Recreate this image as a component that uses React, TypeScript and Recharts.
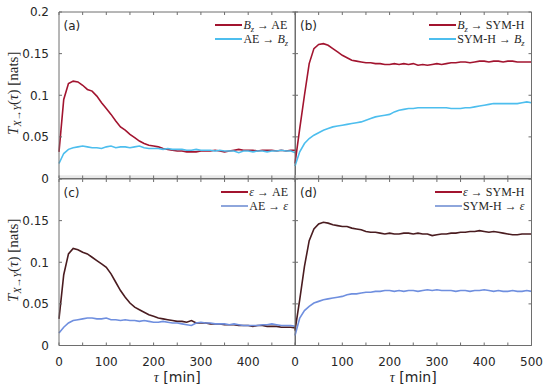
import React from "react";
import { LineChart, Line, XAxis, YAxis, Label, ReferenceArea } from "recharts";

// lag tau [min], one sample every 10 min
const TAU = [
  0, 10, 20, 30, 40, 50, 60, 70, 80, 90, 100, 110, 120, 130, 140, 150, 160, 170,
  180, 190, 200, 210, 220, 230, 240, 250, 260, 270, 280, 290, 300, 310, 320, 330,
  340, 350, 360, 370, 380, 390, 400, 410, 420, 430, 440, 450, 460, 470, 480, 490, 500,
];
const X_TICKS = [0, 50, 100, 150, 200, 250, 300, 350, 400, 450, 500];
const Y_TICKS = [0, 0.05, 0.1, 0.15, 0.2];
const NOISE_LEVEL = 0.004;

// (a)
const bzToAe = [
  0.032, 0.095, 0.114, 0.117, 0.116, 0.112, 0.107, 0.105, 0.099, 0.091, 0.084, 0.077, 0.069,
  0.062, 0.058, 0.053, 0.049, 0.045, 0.042, 0.04, 0.039, 0.038, 0.036, 0.035, 0.034, 0.033,
  0.033, 0.032, 0.032, 0.032, 0.033, 0.033, 0.033, 0.034, 0.033, 0.032, 0.033, 0.034, 0.035,
  0.034, 0.034, 0.034, 0.033, 0.034, 0.034, 0.034, 0.033, 0.034, 0.033, 0.034, 0.034,
];
const aeToBz = [
  0.018, 0.03, 0.035, 0.037, 0.038, 0.039, 0.038, 0.037, 0.037, 0.036, 0.038, 0.039, 0.037,
  0.038, 0.038, 0.037, 0.038, 0.039, 0.037, 0.036, 0.036, 0.036, 0.035, 0.036, 0.035, 0.035,
  0.035, 0.034, 0.034, 0.035, 0.034, 0.034, 0.034, 0.033, 0.034, 0.033, 0.033, 0.033, 0.031,
  0.033, 0.033, 0.032, 0.033, 0.033, 0.032, 0.033, 0.033, 0.034, 0.033, 0.033, 0.031,
];
// (b)
const bzToSymh = [
  0.018, 0.06, 0.1, 0.138, 0.156, 0.161, 0.162, 0.16, 0.156, 0.152, 0.148, 0.145, 0.142,
  0.141, 0.14, 0.139, 0.139, 0.138, 0.138, 0.137, 0.137, 0.138, 0.137, 0.138, 0.137, 0.138,
  0.136, 0.137, 0.136, 0.137, 0.138, 0.137, 0.138, 0.139, 0.139, 0.14, 0.14, 0.139, 0.14,
  0.141, 0.141, 0.14, 0.141, 0.141, 0.14, 0.141, 0.141, 0.14, 0.14, 0.14, 0.14,
];
const symhToBz = [
  0.015, 0.032, 0.042, 0.048, 0.052, 0.055, 0.058, 0.06, 0.062, 0.063, 0.064, 0.065, 0.066,
  0.067, 0.068, 0.07, 0.072, 0.074, 0.075, 0.076, 0.077, 0.08, 0.082, 0.083, 0.084, 0.084,
  0.085, 0.085, 0.085, 0.085, 0.085, 0.085, 0.085, 0.084, 0.084, 0.084, 0.085, 0.085, 0.086,
  0.087, 0.088, 0.089, 0.09, 0.09, 0.09, 0.09, 0.09, 0.09, 0.091, 0.092, 0.091,
];
// (c)
const epsToAe = [
  0.032, 0.085, 0.11, 0.1165, 0.115, 0.112, 0.11, 0.106, 0.102, 0.098, 0.094, 0.086, 0.076,
  0.066, 0.058, 0.051, 0.046, 0.043, 0.04, 0.037, 0.035, 0.033, 0.032, 0.031, 0.03, 0.029,
  0.029, 0.028, 0.03, 0.027, 0.027, 0.027, 0.026, 0.026, 0.026, 0.025, 0.025, 0.025, 0.024,
  0.024, 0.024, 0.023, 0.024, 0.024, 0.023, 0.023, 0.023, 0.022, 0.022, 0.022, 0.021,
];
const aeToEps = [
  0.015, 0.022, 0.027, 0.03, 0.031, 0.032, 0.033, 0.033, 0.032, 0.032, 0.033, 0.031, 0.031,
  0.03, 0.031, 0.03, 0.03, 0.029, 0.03, 0.029, 0.028, 0.028, 0.029, 0.028, 0.027, 0.027,
  0.026, 0.025, 0.024, 0.027, 0.028, 0.027, 0.027, 0.026, 0.026, 0.026, 0.025, 0.026, 0.025,
  0.024, 0.024, 0.024, 0.024, 0.025, 0.025, 0.026, 0.025, 0.024, 0.024, 0.024, 0.023,
];
// (d)
const epsToSymh = [
  0.018, 0.055, 0.095, 0.126, 0.14, 0.146, 0.148, 0.147, 0.145, 0.144, 0.143, 0.143, 0.141,
  0.14, 0.139, 0.137, 0.136, 0.136, 0.135, 0.134, 0.135, 0.134, 0.134, 0.135, 0.135, 0.134,
  0.135, 0.134, 0.134, 0.132, 0.133, 0.134, 0.134, 0.135, 0.135, 0.136, 0.136, 0.137, 0.137,
  0.138, 0.137, 0.136, 0.137, 0.136, 0.135, 0.134, 0.133, 0.133, 0.134, 0.134, 0.134,
];
const symhToEps = [
  0.012, 0.033, 0.042, 0.047, 0.051, 0.053, 0.055, 0.056, 0.057, 0.058, 0.059, 0.061, 0.062,
  0.062, 0.063, 0.064, 0.064, 0.065, 0.065, 0.066, 0.066, 0.065, 0.066, 0.065, 0.066, 0.066,
  0.065, 0.066, 0.067, 0.066, 0.067, 0.066, 0.066, 0.066, 0.065, 0.066, 0.066, 0.065, 0.066,
  0.066, 0.067, 0.066, 0.065, 0.066, 0.065, 0.065, 0.066, 0.065, 0.065, 0.066, 0.065,
];

const SANS = "'DejaVu Sans', sans-serif";
const SERIF = "'Liberation Serif', 'DejaVu Serif', serif";
const AXIS_COLOR = "#6e6e6e";
const TEXT_COLOR = "#262626";

const PLOT_W = 236.5;
const PLOT_H = 166.5;
const Y_AXIS_W = 50;
const X_AXIS_H = 38;
const M = 12; // room so edge tick labels are not clipped

const sub = (s: string) => (
  <sub style={{ fontSize: "0.7em", verticalAlign: "-0.3em", lineHeight: 0, fontStyle: "italic" }}>{s}</sub>
);
const Bz = (
  <>
    <i>B</i>
    {sub("z")}
  </>
);
const Eps = <i>ε</i>;
const blank = () => "";

interface PanelProps {
  tag: string;
  left: number;
  top: number;
  forward: number[];
  backward: number[];
  lineColors: [string, string];
  legendColors: [string, string];
  legendLabels: [React.ReactNode, React.ReactNode];
  yLabels: boolean;
  xLabels: boolean;
  hideX500?: boolean;
  hideY02?: boolean;
  band?: boolean;
}

const Panel = (p: PanelProps) => {
  const yw = p.yLabels ? Y_AXIS_W : 0;
  const xh = p.xLabels ? X_AXIS_H : 0;
  const width = M + yw + PLOT_W + M;
  const height = M + PLOT_H + xh + M;
  const rows = TAU.map((t, i) => ({ t, f: p.forward[i], b: p.backward[i] }));
  const tick = { fill: TEXT_COLOR, fontSize: 12, fontFamily: SANS };
  const frame = { stroke: AXIS_COLOR, strokeWidth: 1 };

  // mirrored axes draw the box and its inward ticks; plain axes carry the labels
  const boxX = (id: string, orientation: "top" | "bottom") => (
    <XAxis
      xAxisId={id}
      dataKey="t"
      type="number"
      orientation={orientation}
      mirror
      height={1}
      domain={[0, 500]}
      ticks={X_TICKS}
      interval={0}
      axisLine={frame}
      tickLine={frame}
      tickSize={3}
      tickFormatter={blank}
    />
  );
  const boxY = (id: string, orientation: "left" | "right") => (
    <YAxis
      yAxisId={id}
      dataKey="f"
      type="number"
      orientation={orientation}
      mirror
      width={1}
      domain={[0, 0.2]}
      ticks={Y_TICKS}
      interval={0}
      axisLine={frame}
      tickLine={frame}
      tickSize={3}
      tickFormatter={blank}
    />
  );

  return (
    <div style={{ position: "absolute", left: p.left - M - yw, top: p.top - M, width, height }}>
      <LineChart width={width} height={height} data={rows} margin={{ top: M, right: M, bottom: M, left: M }}>
        {boxX("b", "bottom")}
        {boxX("t", "top")}
        {boxY("l", "left")}
        {boxY("r", "right")}
        {p.xLabels && (
          <XAxis
            xAxisId="lab"
            dataKey="t"
            type="number"
            height={xh}
            domain={[0, 500]}
            ticks={X_TICKS}
            interval={0}
            axisLine={false}
            tickLine={false}
            tickMargin={6}
            tick={tick}
            tickFormatter={(v: number) => (v % 100 === 0 && !(p.hideX500 && v === 500) ? String(v) : "")}
          >
            <Label
              content={() => (
                <text x={M + yw + PLOT_W / 2} y={M + PLOT_H + 36} textAnchor="middle" fill={TEXT_COLOR} fontSize={14} fontFamily={SANS}>
                  <tspan fontFamily={SERIF} fontStyle="italic">τ</tspan>
                  <tspan> [min]</tspan>
                </text>
              )}
            />
          </XAxis>
        )}
        {p.yLabels && (
          <YAxis
            yAxisId="lab"
            dataKey="f"
            type="number"
            width={yw}
            domain={[0, 0.2]}
            ticks={Y_TICKS}
            interval={0}
            axisLine={false}
            tickLine={false}
            tickMargin={4}
            tick={tick}
            tickFormatter={(v: number) => (!(p.hideY02 && v === 0.2) ? String(v) : "")}
          >
            <Label
              content={() => (
                <text
                  transform={`translate(${M + 9} ${M + PLOT_H / 2 - 2}) rotate(-90)`}
                  textAnchor="middle"
                  fill={TEXT_COLOR}
                  fontSize={15}
                  fontFamily={SERIF}
                >
                  <tspan fontStyle="italic">T</tspan>
                  <tspan fontStyle="italic" fontSize={10} dy={3}>X→Y</tspan>
                  <tspan dy={-3}>(</tspan>
                  <tspan fontStyle="italic">τ</tspan>
                  <tspan>)  [nats]</tspan>
                </text>
              )}
            />
          </YAxis>
        )}
        {p.band && (
          <ReferenceArea xAxisId="b" yAxisId="l" y1={0} y2={NOISE_LEVEL} fill="#e8e8e8" fillOpacity={1} stroke="none" />
        )}
        <Line xAxisId="b" yAxisId="l" dataKey="f" type="linear" stroke={p.lineColors[0]} strokeWidth={1.6} dot={false} isAnimationActive={false} />
        <Line xAxisId="b" yAxisId="l" dataKey="b" type="linear" stroke={p.lineColors[1]} strokeWidth={1.6} dot={false} isAnimationActive={false} />
      </LineChart>
      <div
        style={{
          position: "absolute",
          left: M + yw + 5,
          top: M + 7,
          fontFamily: SANS,
          fontSize: 12,
          color: TEXT_COLOR,
          lineHeight: "14px",
        }}
      >
        {p.tag}
      </div>
      <div
        style={{
          position: "absolute",
          right: M + 7,
          top: M + 6,
          fontFamily: SERIF,
          fontSize: 12,
          color: TEXT_COLOR,
          lineHeight: "14px",
        }}
      >
        {p.legendLabels.map((l, i) => (
          <div key={i} style={{ display: "flex", alignItems: "center", whiteSpace: "nowrap" }}>
            <span style={{ display: "inline-block", width: 27, borderTop: `2px solid ${p.legendColors[i]}`, marginRight: 1 }} />
            <span>{l}</span>
          </div>
        ))}
      </div>
    </div>
  );
};

const TOP_COLORS: [string, string] = ["#A2142F", "#4DBEEE"];
const BOTTOM_LINES: [string, string] = ["#4a1c20", "#6f8fdf"];
const BOTTOM_LEGEND: [string, string] = ["#A2142F", "#8ea6dc"];

export default function App() {
  return (
    <div style={{ position: "absolute", left: 0, top: 0, width: 550, height: 386, background: "#fff", overflow: "hidden" }}>
      <Panel
        tag="(a)"
        left={58.5}
        top={12}
        forward={bzToAe}
        backward={aeToBz}
        lineColors={TOP_COLORS}
        legendColors={TOP_COLORS}
        legendLabels={[<>{Bz} → AE</>, <>AE → {Bz}</>]}
        yLabels
        xLabels={false}
        band
      />
      <Panel
        tag="(b)"
        left={295}
        top={12}
        forward={bzToSymh}
        backward={symhToBz}
        lineColors={TOP_COLORS}
        legendColors={TOP_COLORS}
        legendLabels={[<>{Bz} → SYM-H</>, <>SYM-H → {Bz}</>]}
        yLabels={false}
        xLabels={false}
        band
      />
      <Panel
        tag="(c)"
        left={58.5}
        top={178.5}
        forward={epsToAe}
        backward={aeToEps}
        lineColors={BOTTOM_LINES}
        legendColors={BOTTOM_LEGEND}
        legendLabels={[<>{Eps} → AE</>, <>AE → {Eps}</>]}
        yLabels
        xLabels
        hideX500
        hideY02
      />
      <Panel
        tag="(d)"
        left={295}
        top={178.5}
        forward={epsToSymh}
        backward={symhToEps}
        lineColors={BOTTOM_LINES}
        legendColors={BOTTOM_LEGEND}
        legendLabels={[<>{Eps} → SYM-H</>, <>SYM-H → {Eps}</>]}
        yLabels={false}
        xLabels
      />
    </div>
  );
}
